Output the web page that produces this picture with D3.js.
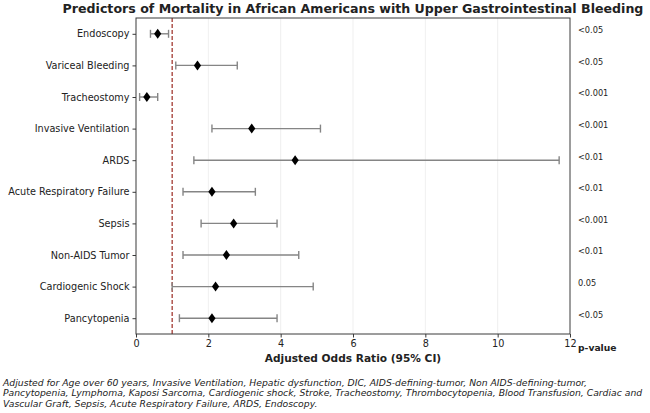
<!DOCTYPE html>
<html>
<head>
<meta charset="utf-8">
<script src="https://cdnjs.cloudflare.com/ajax/libs/d3/7.8.5/d3.min.js"></script>
<style>
    body { margin: 0; background: #fff; }
    text { font-family: "DejaVu Sans", sans-serif; fill: #222; }
</style>
</head>
<body>
<svg id="canvas"></svg>
<script>
var predictors = ["Endoscopy", "Variceal Bleeding", "Tracheostomy", "Invasive Ventilation", "ARDS",
    "Acute Respiratory Failure", "Sepsis", "Non-AIDS Tumor", "Cardiogenic Shock", "Pancytopenia"];
var oddsRatio = [0.6, 1.7, 0.3, 3.2, 4.4, 2.1, 2.7, 2.5, 2.2, 2.1];
var ciLower = [0.4, 1.1, 0.1, 2.1, 1.6, 1.3, 1.8, 1.3, 1.0, 1.2];
var ciUpper = [0.9, 2.8, 0.6, 5.1, 11.7, 3.3, 3.9, 4.5, 4.9, 3.9];
var pValues = ["<0.05", "<0.05", "<0.001", "<0.001", "<0.01", "<0.01", "<0.001", "<0.01", "0.05", "<0.05"];
var xTicks = [0, 2, 4, 6, 8, 10, 12];
var footnote = [
    "Adjusted for Age over 60 years, Invasive Ventilation, Hepatic dysfunction, DIC, AIDS-defining-tumor, Non AIDS-defining-tumor,",
    "Pancytopenia, Lymphoma, Kaposi Sarcoma, Cardiogenic shock, Stroke, Tracheostomy, Thrombocytopenia, Blood Transfusion, Cardiac and",
    "Vascular Graft, Sepsis, Acute Respiratory Failure, ARDS, Endoscopy."
];

var w = 650;
var h = 413;
var m = { left: 136, right: 570, top: 18, bottom: 334 };

var svg = d3.select("#canvas")
    .attr("width", w)
    .attr("height", h);

var rows = predictors.map(function (p, i) {
    return { name: p, or: oddsRatio[i], lo: ciLower[i], hi: ciUpper[i], p: pValues[i] };
});

// ########## Scales ##########

var x = d3.scaleLinear().domain([0, 12]).range([m.left, m.right]);
var y = d3.scalePoint().domain(predictors).range([m.top, m.bottom]).padding(0.5);

// ########## Grid ##########

svg.append("g").selectAll("line")
    .data(xTicks.filter(function (t) { return t > 0 && t < 12; })).enter()
    .append("line")
    .attr("x1", function (d) { return x(d); })
    .attr("x2", function (d) { return x(d); })
    .attr("y1", m.top)
    .attr("y2", m.bottom)
    .attr("stroke", "#ebebeb")
    .attr("stroke-width", 0.8);

// reference line at OR = 1
svg.append("line")
    .attr("x1", x(1)).attr("x2", x(1))
    .attr("y1", m.top).attr("y2", m.bottom)
    .attr("stroke", "#a33a32")
    .attr("stroke-width", 1.3)
    .attr("stroke-dasharray", "4,2");

// ########## Error bars ##########

var bars = svg.append("g").selectAll("g")
    .data(rows).enter()
    .append("g")
    .attr("stroke", "#858585")
    .attr("stroke-width", 1.4);

bars.append("line")
    .attr("x1", function (d) { return x(d.lo); })
    .attr("x2", function (d) { return x(d.hi); })
    .attr("y1", function (d) { return y(d.name); })
    .attr("y2", function (d) { return y(d.name); });

bars.append("line")
    .attr("x1", function (d) { return x(d.lo); })
    .attr("x2", function (d) { return x(d.lo); })
    .attr("y1", function (d) { return y(d.name) - 4; })
    .attr("y2", function (d) { return y(d.name) + 4; });

bars.append("line")
    .attr("x1", function (d) { return x(d.hi); })
    .attr("x2", function (d) { return x(d.hi); })
    .attr("y1", function (d) { return y(d.name) - 4; })
    .attr("y2", function (d) { return y(d.name) + 4; });

// ########## Markers ##########

svg.append("g").selectAll("path")
    .data(rows).enter()
    .append("path")
    .attr("d", "M0,-5L3.6,0L0,5L-3.6,0Z")
    .attr("fill", "#000")
    .attr("transform", function (d) { return "translate(" + x(d.or) + "," + y(d.name) + ")"; });

// ########## Axes ##########

svg.append("rect")
    .attr("x", m.left).attr("y", m.top)
    .attr("width", m.right - m.left).attr("height", m.bottom - m.top)
    .attr("fill", "none")
    .attr("stroke", "#3a3a3a")
    .attr("stroke-width", 1);

var xAxis = svg.append("g")
    .attr("transform", "translate(0," + m.bottom + ")")
    .call(d3.axisBottom(x).tickValues(xTicks).tickSize(3.5).tickPadding(2.5));

var yAxis = svg.append("g")
    .attr("transform", "translate(" + m.left + ",0)")
    .call(d3.axisLeft(y).tickSize(3.5).tickPadding(3));

[xAxis, yAxis].forEach(function (a) {
    a.select(".domain").remove();
    a.selectAll("line").attr("stroke", "#3a3a3a");
    a.selectAll("text")
        .style("font-family", "DejaVu Sans")
        .style("font-size", "9.7px")
        .attr("fill", "#222");
});

// ########## p-values ##########

svg.append("g").selectAll("text")
    .data(rows).enter()
    .append("text")
    .attr("x", 578)
    .attr("y", function (d) { return y(d.name) - 3.5; })
    .attr("dy", "0.35em")
    .style("font-size", "8.2px")
    .text(function (d) { return d.p; });

svg.append("text")
    .attr("x", 578)
    .attr("y", 348)
    .attr("dy", "0.35em")
    .style("font-size", "9.2px")
    .style("font-weight", "bold")
    .attr("fill", "#000")
    .text("p-value");

// ########## Titles ##########

svg.append("text")
    .attr("x", (m.left + m.right) / 2)
    .attr("y", 8.5)
    .attr("dy", "0.35em")
    .attr("text-anchor", "middle")
    .style("font-size", "12.6px")
    .style("font-weight", "bold")
    .attr("fill", "#000")
    .text("Predictors of Mortality in African Americans with Upper Gastrointestinal Bleeding");

svg.append("text")
    .attr("x", (m.left + m.right) / 2)
    .attr("y", 358)
    .attr("dy", "0.35em")
    .attr("text-anchor", "middle")
    .style("font-size", "10.6px")
    .style("font-weight", "bold")
    .attr("fill", "#000")
    .text("Adjusted Odds Ratio (95% CI)");

svg.append("g").selectAll("text")
    .data(footnote).enter()
    .append("text")
    .attr("x", 3)
    .attr("y", function (d, i) { return 382.5 + i * 10.6; })
    .attr("dy", "0.35em")
    .style("font-size", "9.25px")
    .style("font-style", "italic")
    .text(function (d) { return d; });
</script>
</body>
</html>
